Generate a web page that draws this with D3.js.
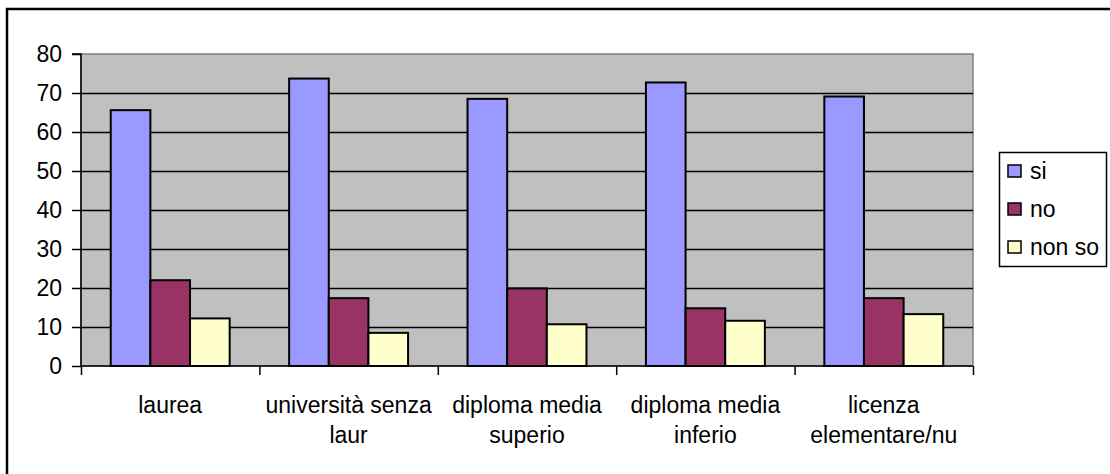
<!DOCTYPE html>
<html><head><meta charset="utf-8">
<script src="https://cdn.jsdelivr.net/npm/d3@7"></script>
<style>body{margin:0;background:#fff}svg{display:block}text{font-family:"Liberation Sans",Arial,sans-serif}</style>
</head><body>
<svg id="c" width="1110" height="474"></svg>
<script>
const categories = [["laurea"], ["università senza", "laur"], ["diploma media", "superio"], ["diploma media", "inferio"], ["licenza", "elementare/nu"]];
const seriesNames = ["si", "no", "non so"];
const si = [65.6, 73.7, 68.5, 72.7, 69.1];
const no = [22.0, 17.4, 19.9, 14.8, 17.4];
const nonSo = [12.2, 8.5, 10.7, 11.6, 13.3];
const colors = ["#9999FF", "#993366", "#FFFFCC"];
const yTicks = [0, 10, 20, 30, 40, 50, 60, 70, 80];

const series = [si, no, nonSo];
const svg = d3.select("#c");
const L = 81, R = 973, T = 54, B = 366;
const FS = 23;

// outer frame
svg.append("rect").attr("x", 7).attr("y", 9).attr("width", 1200).attr("height", 600)
  .attr("fill", "none").attr("stroke", "#000").attr("stroke-width", 2.5);

const x = d3.scaleBand().domain(d3.range(categories.length)).range([L, R]).paddingInner(0).paddingOuter(0);
const y = d3.scaleLinear().domain([0, 80]).range([B, T]);
const inner = d3.scaleBand().domain(d3.range(3)).range([x.bandwidth() / 6, x.bandwidth() * 5 / 6]);

svg.append("rect").attr("x", L).attr("y", T).attr("width", R - L).attr("height", B - T)
  .attr("fill", "#C0C0C0").attr("stroke", "#808080").attr("stroke-width", 1.5);

// gridlines
svg.append("g").selectAll("line").data(yTicks.filter(d => d > 0 && d < 80)).join("line")
  .attr("x1", L).attr("x2", R).attr("y1", d => Math.round(y(d)) + 0.5).attr("y2", d => Math.round(y(d)) + 0.5)
  .attr("stroke", "#000").attr("stroke-width", 1.5);

// bars
series.forEach((vals, si_) => {
  svg.append("g").selectAll("rect").data(vals).join("rect")
    .attr("x", (d, i) => x(i) + inner(si_))
    .attr("y", d => y(d))
    .attr("width", inner.bandwidth())
    .attr("height", d => y(0) - y(d))
    .attr("fill", colors[si_]).attr("stroke", "#000").attr("stroke-width", 2);
});

// y axis
const yAxis = d3.axisLeft(y).tickValues(yTicks).tickSize(9).tickPadding(10);
const gy = svg.append("g").attr("transform", `translate(${L},0)`).call(yAxis);
gy.select(".domain").attr("stroke", "#000").attr("stroke-width", 1.5).attr("d", `M-9,${T}H0V${B}`);
gy.selectAll(".tick line").attr("stroke", "#000").attr("stroke-width", 1.5);
gy.selectAll(".tick text").attr("font-size", FS).attr("fill", "#000").style("font-family", '"Liberation Sans",Arial,sans-serif');

// x axis
const xb = d3.scaleLinear().domain([0, categories.length]).range([L, R]);
const xAxis = d3.axisBottom(xb).tickValues(d3.range(categories.length + 1)).tickSize(9).tickFormat("");
const gx = svg.append("g").attr("transform", `translate(0,${B})`).call(xAxis);
gx.select(".domain").attr("stroke", "#000").attr("stroke-width", 1.5).attr("d", `M${L},0H${R}`);
gx.selectAll(".tick line").attr("stroke", "#000").attr("stroke-width", 1.5);

// category labels
const lbl = svg.append("g").selectAll("text").data(categories).join("text")
  .attr("text-anchor", "middle").attr("font-size", FS).attr("fill", "#000")
  .attr("transform", (d, i) => `translate(${x(i) + x.bandwidth() / 2},413)`);
lbl.selectAll("tspan").data(d => d).join("tspan").attr("x", 0).attr("y", (d, j) => j * 30).text(d => d);

// legend
const lg = svg.append("g");
lg.append("rect").attr("x", 999.5).attr("y", 152.5).attr("width", 107).attr("height", 114)
  .attr("fill", "#fff").attr("stroke", "#000").attr("stroke-width", 1.5);
const items = lg.selectAll("g").data(seriesNames).join("g")
  .attr("transform", (d, i) => `translate(1008,${171 + i * 38})`);
items.append("rect").attr("x", 0).attr("y", -6).attr("width", 13).attr("height", 12)
  .attr("fill", (d, i) => colors[i]).attr("stroke", "#000").attr("stroke-width", 1.5);
items.append("text").attr("x", 22).attr("y", 8).attr("font-size", FS).attr("fill", "#000").text(d => d);
</script>
</body></html>
